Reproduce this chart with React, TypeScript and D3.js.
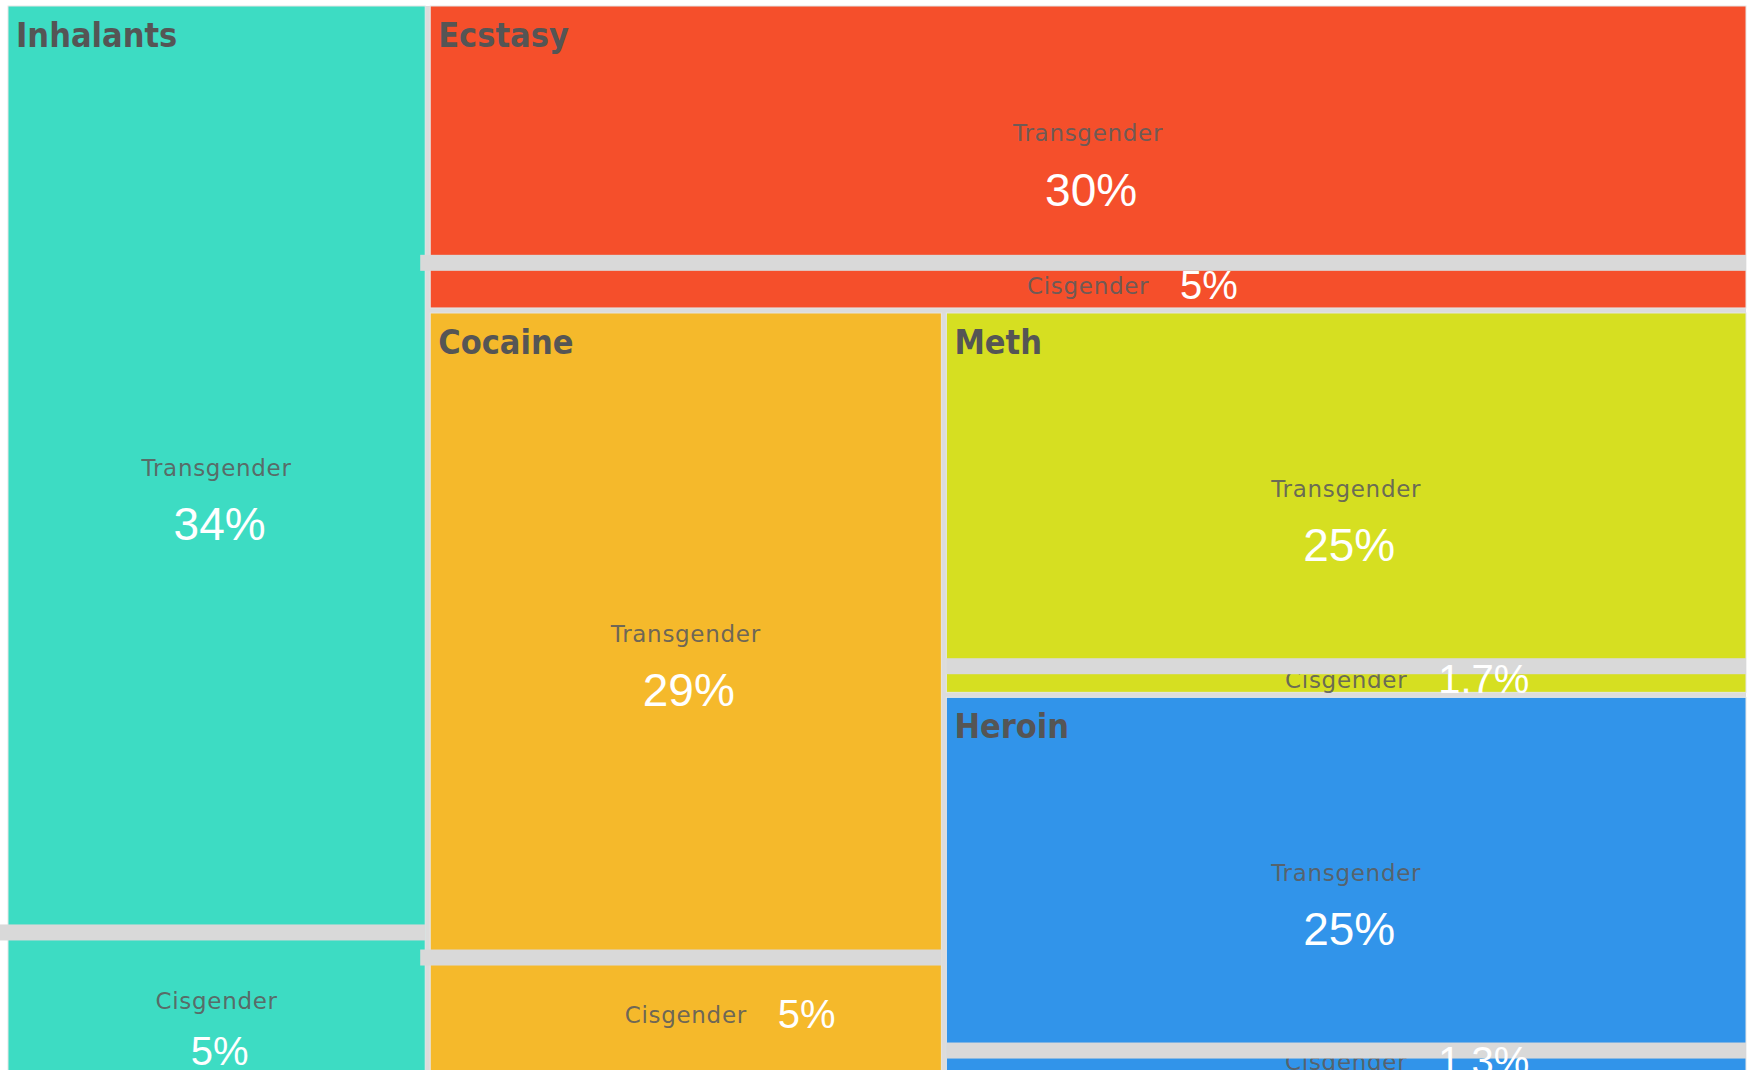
import React from 'react';
import * as d3 from 'd3';

// drug categories, each split into transgender / cisgender share
const drugs = ['Inhalants', 'Ecstasy', 'Cocaine', 'Meth', 'Heroin'];
const transgender = [34, 30, 29, 25, 25];
const cisgender = [5, 5, 5, 1.7, 1.3];
const groups = ['Transgender', 'Cisgender'];

const colors = ['#3ddcc3', '#f54f2b', '#f5b92b', '#d6df21', '#3194ea'];

const W = 1738;
const H = 1065;

// alternate column / row strips at the top level, stack the two groups inside
function stripTile(parent: any, x0: number, y0: number, x1: number, y1: number) {
  if (parent.depth > 0) return d3.treemapSlice(parent, x0, y0, x1, y1);
  let remaining = parent.value;
  parent.children.forEach((c: any, i: number) => {
    c.x0 = x0; c.y0 = y0; c.x1 = x1; c.y1 = y1;
    if (i < parent.children.length - 1) {
      const k = c.value / remaining;
      if (i % 2 === 0) {
        const xs = x0 + (x1 - x0) * k;
        c.x1 = xs; x0 = xs;
      } else {
        const ys = y0 + (y1 - y0) * k;
        c.y1 = ys; y0 = ys;
      }
    }
    remaining -= c.value;
  });
}

const tree = {
  name: 'root',
  children: drugs.map((d, i) => ({
    name: d,
    children: [
      { name: groups[0], value: transgender[i] },
      { name: groups[1], value: cisgender[i] },
    ],
  })),
};

export default function App() {
  const root = d3.hierarchy<any>(tree).sum((d) => d.value || 0);
  d3.treemap<any>()
    .size([W, H])
    .tile(stripTile as any)
    .paddingInner((d: any) => (d.depth === 0 ? 5 : 0))(root);

  const parents = root.children || [];
  const nameFont = "'DejaVu Sans', Verdana, sans-serif";
  const pctFont = "'Liberation Sans', Arial, sans-serif";
  const isStacked = (leaf: any) => leaf.y1 - leaf.y0 > 125;

  return (
    <svg
      width={1752}
      height={1070}
      style={{ position: 'absolute', left: 0, top: 0, background: '#fff' }}
    >
      <g transform="translate(8,6)">
        <rect x={0} y={0} width={W} height={H} fill="#dcdcdc" />
        {parents.map((p: any, i: number) => (
          <g key={p.data.name}>
            <rect
              x={p.x0}
              y={p.y0}
              width={p.x1 - p.x0}
              height={p.y1 - p.y0}
              fill={colors[i]}
              stroke="#e6e6e6"
              strokeWidth={1}
            />
            <text
              x={p.x0 + 8}
              y={p.y0 + 41}
              fontFamily="'DejaVu Sans Condensed', 'DejaVu Sans', sans-serif"
              fontStretch="condensed"
              fontWeight="bold"
              fontSize={34}
              fill="#555"
            >
              {p.data.name}
            </text>
          </g>
        ))}

        {/* leaf labels */}
        {parents.map((p: any) =>
          p.children.map((leaf: any, j: number) => {
            const cx = (leaf.x0 + leaf.x1) / 2;
            const cy = (leaf.y0 + leaf.y1) / 2;
            const pctSize = j === 0 ? 46 : 40;
            const stacked = isStacked(leaf);
            return (
              <g key={p.data.name + leaf.data.name}>
                <text
                  x={cx}
                  y={stacked ? cy + 6 : cy + 8}
                  textAnchor="middle"
                  fontFamily={nameFont}
                  fontSize={23}
                  letterSpacing={0.7}
                  fill="#5c5c5c"
                  fillOpacity={0.9}
                >
                  {leaf.data.name}
                </text>
                {stacked && (
                  <text
                    x={cx + 3}
                    y={cy + 8 + pctSize * 1.35}
                    textAnchor="middle"
                    fontFamily={pctFont}
                    fontSize={pctSize}
                    fill="#fff"
                  >
                    {leaf.data.value + '%'}
                  </text>
                )}
              </g>
            );
          })
        )}

        {/* separator bars between the two groups */}
        {parents.map((p: any) => {
          const cis = p.children[1];
          const reach = p.x0 < W * 0.4 ? 10 : 0;
          return (
            <rect
              key={p.data.name + '-bar'}
              x={p.x0 - reach}
              y={cis.y0 - 10}
              width={p.x1 - p.x0 + reach}
              height={16}
              fill="#d9d9d9"
            />
          );
        })}

        {/* inline percent labels of the small groups sit above the bars */}
        {parents.map((p: any) => {
          const leaf = p.children[1];
          if (isStacked(leaf)) return null;
          const cx = (leaf.x0 + leaf.x1) / 2;
          const cy = (leaf.y0 + leaf.y1) / 2;
          return (
            <text
              key={p.data.name + '-pct'}
              x={cx + 92}
              y={cy + 13}
              fontFamily={pctFont}
              fontSize={40}
              fill="#fff"
            >
              {leaf.data.value + '%'}
            </text>
          );
        })}
      </g>
    </svg>
  );
}
